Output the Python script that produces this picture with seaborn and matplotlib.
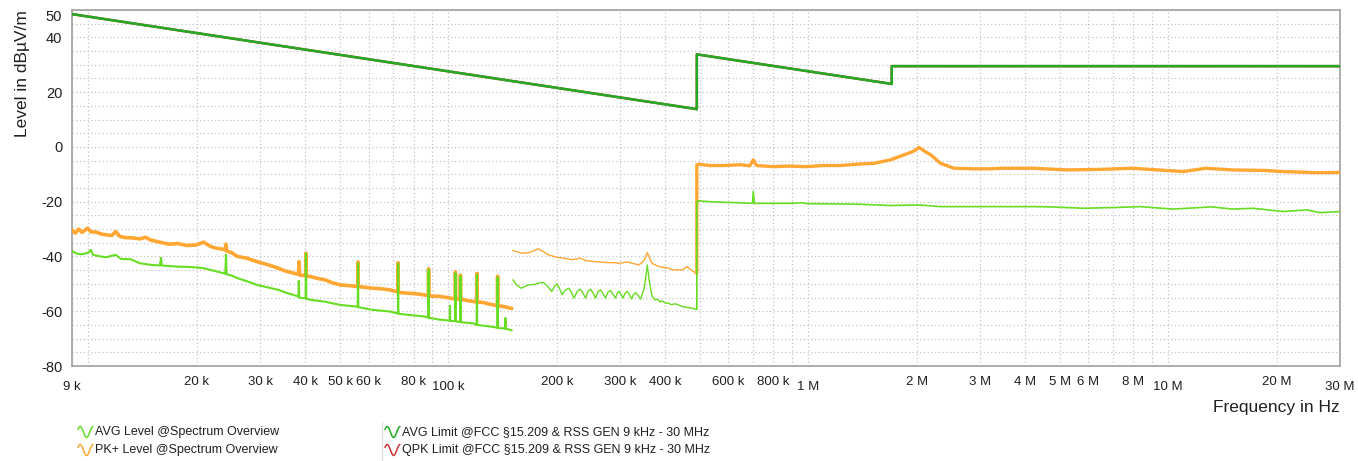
import numpy as np
import pandas as pd
import matplotlib
matplotlib.use("Agg")
import matplotlib.pyplot as plt
import matplotlib.ticker as mticker
from matplotlib.lines import Line2D
import seaborn as sns

# ---------------- data (frequency in kHz, level in dBuV/m) ----------------
limit_khz = [9, 490, 490, 1705, 1705, 30000]
limit_db = [48.5, 13.8, 33.8, 23.0, 29.5, 29.5]

pk1_khz = [9.0, 9.19, 9.39, 9.6, 9.94, 10.15, 10.5, 10.85, 11.2, 11.6,
           11.9, 12.2, 12.6, 13.2, 13.9, 14.4, 14.9, 15.8, 16.7, 17.7,
           18.8, 19.9, 20.9, 21.8, 22.7, 23.7, 24.0, 24.1, 24.2, 25.0,
           25.9, 27.5, 29.4, 31.5, 33.7, 35.2, 36.9, 38.3, 38.45, 38.6,
           40.1, 40.2, 40.3, 41.3, 43.2, 45.3, 47.6, 50.1, 53.5, 56.0,
           56.1, 56.2, 59.0, 61.6, 65.0, 68.8, 72.4, 72.5, 72.6, 76.8,
           81.0, 85.5, 88.0, 88.1, 88.2, 94.9, 99.0, 104.4, 104.6, 104.8,
           107.8, 108.0, 108.2, 110.1, 114.0, 119.8, 120.0, 120.2, 124.8, 130.0,
           136.8, 137.0, 137.2, 142.8, 148.5, 150.0]
pk1_db = [-30.3, -31.5, -30.0, -31.2, -29.7, -31.0, -31.1, -31.8, -32.1, -32.4,
          -30.9, -32.6, -33.1, -33.2, -33.6, -33.0, -34.0, -34.8, -35.5, -35.3,
          -36.0, -35.8, -34.8, -36.3, -37.0, -37.4, -37.6, -35.5, -38.0, -38.6,
          -40.0, -40.6, -41.9, -43.0, -44.3, -45.3, -46.0, -46.5, -41.9, -46.8,
          -47.0, -38.8, -47.2, -47.3, -48.0, -48.5, -49.6, -50.4, -50.7, -51.0,
          -42.0, -51.0, -51.3, -51.6, -51.8, -52.2, -53.0, -42.3, -53.1, -53.4,
          -53.6, -54.0, -54.3, -44.5, -54.4, -54.6, -55.0, -55.5, -45.6, -55.5,
          -55.7, -46.8, -55.7, -55.8, -56.2, -56.6, -46.2, -56.6, -56.8, -57.4,
          -58.0, -47.2, -58.0, -58.3, -58.9, -59.0]

avg1_khz = [9.0, 9.29, 9.6, 10.0, 10.15, 10.3, 10.8, 11.2, 11.9, 12.3,
            13.1, 13.9, 15.0, 15.8, 15.9, 16.0, 17.6, 18.8, 19.9, 20.9,
            21.8, 23.7, 24.0, 24.1, 24.2, 25.0, 25.9, 27.5, 29.4, 31.5,
            33.7, 36.1, 38.3, 38.4, 38.5, 38.7, 40.1, 40.2, 40.3, 41.3,
            45.3, 50.1, 55.6, 56.0, 56.1, 56.2, 61.6, 68.8, 72.4, 72.5,
            72.6, 76.8, 85.5, 88.0, 88.1, 88.2, 94.9, 100.8, 101.0, 101.2,
            104.4, 104.6, 104.8, 105.9, 107.8, 108.0, 108.2, 116.9, 119.8, 120.0,
            120.2, 130.8, 136.8, 137.0, 137.2, 143.8, 144.0, 144.2, 148.5, 150.0]
avg1_db = [-38.0, -39.0, -39.2, -38.6, -37.6, -39.4, -40.0, -40.3, -39.4, -40.9,
           -41.0, -42.5, -43.1, -43.3, -40.5, -43.3, -43.7, -43.8, -44.0, -44.3,
           -44.9, -46.1, -46.3, -39.4, -46.5, -47.0, -47.9, -49.0, -50.4, -51.3,
           -52.2, -53.6, -54.6, -48.9, -54.8, -55.1, -55.3, -39.0, -55.5, -55.8,
           -56.5, -57.7, -58.3, -58.4, -42.5, -58.5, -59.5, -60.1, -60.8, -42.7,
           -60.9, -61.3, -61.9, -62.3, -44.9, -62.4, -63.1, -63.4, -58.0, -63.5,
           -63.6, -46.1, -63.7, -63.8, -63.9, -47.3, -64.0, -64.4, -64.9, -46.7,
           -65.0, -65.6, -66.0, -47.6, -66.1, -66.3, -62.5, -66.4, -66.8, -67.0]

pk2_khz = [151, 159.4, 168, 177.6, 183.4, 189.5, 200, 208, 216, 220.8,
           232.9, 240.6, 256.4, 273.2, 291.2, 297.6, 314, 324.3, 338.3, 349.4,
           357, 364.7, 368.6, 384.6, 410, 419, 446.7, 461, 475, 490]
pk2_db = [-37.8, -38.8, -38.6, -37.2, -38.2, -39.4, -40.3, -40.6, -41.0, -41.2,
          -40.6, -41.5, -41.9, -42.2, -42.3, -42.5, -42.0, -42.5, -43.1, -41.5,
          -38.6, -41.5, -42.6, -43.7, -44.3, -44.9, -44.9, -43.7, -45.2, -46.2]

avg2_khz = [151, 155, 159.4, 163, 166.3, 170, 173.8, 178, 183.4, 186.5,
            189.5, 193.7, 197.0, 200, 203.5, 206.9, 211.5, 216, 219.5, 223.1,
            228.5, 232.9, 236.5, 240.6, 244.5, 248.4, 252.5, 256.4, 260.5, 264.6,
            269, 273.2, 277.5, 282, 286.5, 291.2, 294.5, 297.6, 301.5, 305.4,
            310, 314.1, 318.5, 322.9, 327, 331.2, 336.5, 342, 346, 349.4,
            353, 357, 361, 364.7, 368.6, 375, 380.5, 387, 393, 400,
            410, 415, 428, 446.7, 470, 490]
avg2_db = [-48.5, -50.5, -51.6, -51.0, -50.4, -50.3, -50.2, -49.7, -49.5, -50.2,
           -51.2, -52.8, -51.0, -50.0, -51.6, -54.0, -52.2, -51.6, -53.0, -55.2,
           -52.6, -52.0, -53.4, -55.2, -52.6, -52.0, -53.4, -55.2, -52.8, -52.2,
           -53.6, -55.2, -53.0, -52.4, -53.8, -55.2, -53.4, -52.8, -53.8, -55.2,
           -53.3, -52.8, -54.0, -55.5, -53.8, -53.2, -54.2, -55.6, -53.6, -52.0,
           -48.0, -43.1, -48.5, -52.0, -54.6, -55.8, -55.6, -56.6, -56.2, -57.0,
           -57.1, -57.6, -57.3, -58.3, -58.8, -59.3]

pk3_khz = [490, 490, 495.3, 533, 580, 646, 688, 703, 718, 799,
           888, 989, 1101, 1226, 1365, 1520, 1693, 1844, 1966, 2030,
           2100, 2190, 2330, 2540, 2890, 3210, 3420, 4230, 5230, 6460,
           7990, 9880, 11000, 12700, 15100, 18600, 20900, 25900, 30000]
pk3_db = [-46.2, -6.6, -6.3, -6.8, -6.8, -6.5, -6.9, -4.7, -6.8, -7.2,
          -7.0, -7.2, -6.8, -6.8, -6.3, -6.0, -4.7, -2.9, -1.5, -0.2,
          -1.5, -2.9, -6.0, -7.8, -8.0, -8.0, -7.8, -7.8, -8.4, -8.2,
          -7.8, -8.6, -9.0, -7.8, -8.4, -8.6, -9.0, -9.4, -9.3]

avg3_khz = [490, 490, 495.3, 533, 580, 646, 688, 700, 703, 708,
            718, 799, 888, 960, 989, 1365, 1693, 2030, 2330, 2890,
            3420, 4230, 4710, 5820, 7200, 8350, 10300, 13200, 15100, 17200,
            20900, 24300, 26400, 30000]
avg3_db = [-59.3, -20.0, -19.7, -20.0, -20.2, -20.4, -20.6, -20.5, -16.3, -20.6,
           -20.6, -20.6, -20.6, -20.4, -20.7, -20.9, -21.4, -21.2, -21.8, -21.8,
           -21.8, -21.8, -21.9, -22.4, -22.1, -21.8, -22.7, -21.9, -22.7, -22.4,
           -23.6, -23.0, -24.0, -23.6]

xtick_hz = [9e3, 2e4, 3e4, 4e4, 5e4, 6e4, 8e4, 1e5, 2e5, 3e5, 4e5, 6e5, 8e5,
            1e6, 2e6, 3e6, 4e6, 5e6, 6e6, 8e6, 1e7, 2e7, 3e7]
xtick_text = ["9 k", "20 k", "30 k", "40 k", "50 k", "60 k", "80 k", "100 k",
              "200 k", "300 k", "400 k", "600 k", "800 k", "1 M", "2 M", "3 M",
              "4 M", "5 M", "6 M", "8 M", "10 M", "20 M", "30 M"]
xtick_low = ["9 k", "100 k", "1 M", "10 M", "30 M"]
ytick_vals = [-80, -60, -40, -20, 0, 20, 40, 50]

legend_names = ["AVG Level @Spectrum Overview",
                "PK+ Level @Spectrum Overview",
                "AVG Limit @FCC §15.209 & RSS GEN 9 kHz - 30 MHz",
                "QPK Limit @FCC §15.209 & RSS GEN 9 kHz - 30 MHz"]

# ---------------- style ----------------
C_AVG = "#66dd22"
C_PK = "#ffa633"
C_LIM = "#22aa22"
C_QPK = "#cc3333"
GRID = "#c4c4c4"
FRAME = "#a0a0a0"

sns.set_theme(style="white")
plt.rcParams["font.family"] = ["Liberation Sans", "DejaVu Sans"]


def frame(khz, db):
    return pd.DataFrame({"freq": np.asarray(khz, float) * 1e3, "level": db})


fig, ax = plt.subplots(figsize=(13.58, 4.61), dpi=100)
fig.subplots_adjust(left=72 / 1358, right=1340 / 1358, top=1 - 10 / 461, bottom=1 - 366 / 461)
ax.set_xscale("log")

common = dict(x="freq", y="level", estimator=None, sort=False, ax=ax, legend=False)
sns.lineplot(data=frame(pk1_khz, pk1_db), color=C_PK, lw=2.6, zorder=3, **common)
sns.lineplot(data=frame(pk2_khz, pk2_db), color=C_PK, lw=1.0, zorder=3, **common)
sns.lineplot(data=frame(pk3_khz, pk3_db), color=C_PK, lw=2.4, zorder=3, **common)
sns.lineplot(data=frame(avg1_khz, avg1_db), color=C_AVG, lw=1.5, zorder=4, **common)
sns.lineplot(data=frame(avg2_khz, avg2_db), color=C_AVG, lw=1.0, zorder=4, **common)
sns.lineplot(data=frame(avg3_khz, avg3_db), color=C_AVG, lw=1.2, zorder=4, **common)
sns.lineplot(data=frame(limit_khz, limit_db), color=C_QPK, lw=1.8, zorder=5, **common)
sns.lineplot(data=frame(limit_khz, limit_db), color=C_LIM, lw=1.8, zorder=6, **common)

ax.set_xlim(9e3, 30e6)
ax.set_ylim(-80, 50)

# grid positions: every 1..9 x decade, every 5 dB
grid_x = [m * 10.0 ** e for e in range(3, 8) for m in range(1, 10) if 9e3 <= m * 10.0 ** e <= 3e7]
grid_y = list(range(-80, 51, 5))
xlab = {round(v): t for v, t in zip(xtick_hz, xtick_text)}
ax.xaxis.set_major_locator(mticker.FixedLocator(grid_x))
ax.xaxis.set_minor_locator(mticker.NullLocator())
ax.xaxis.set_major_formatter(mticker.FuncFormatter(lambda v, p: xlab.get(round(v), "")))
ax.yaxis.set_major_locator(mticker.FixedLocator(grid_y))
ax.yaxis.set_major_formatter(mticker.FuncFormatter(lambda v, p: f"{v:.0f}" if round(v) in ytick_vals else ""))

ax.tick_params(axis="both", which="major", direction="out", length=4, width=0.8,
               color=FRAME, labelcolor="#202020")
ax.tick_params(axis="x", labelsize=9.5, pad=3)
ax.tick_params(axis="y", labelsize=10.5, pad=3)

for tick, v in zip(ax.xaxis.get_major_ticks(), grid_x):
    txt = xlab.get(round(v), "")
    if not txt:
        tick.tick1line.set_visible(False)
    elif txt in xtick_low:
        tick.set_pad(7)
for tick, v in zip(ax.yaxis.get_major_ticks(), grid_y):
    if round(v) not in ytick_vals:
        tick.tick1line.set_visible(False)
    if round(v) == 50:
        tick.label1.set_va("top")

ax.grid(True, which="major", color=GRID, linestyle=(0, (1, 2)), linewidth=0.9)
for s in ax.spines.values():
    s.set_visible(True)
    s.set_color(FRAME)
    s.set_linewidth(1.2)

ax.set_ylabel("Level in dBµV/m", loc="top", fontsize=12.5, labelpad=8, color="#202020")
ax.set_xlabel("Frequency in Hz", loc="right", fontsize=12.5, labelpad=5, color="#202020")

# ---------------- legend below ----------------
W, H = 1358.0, 461.0


def icon(x0, yc, color):
    t = np.linspace(-0.35 * np.pi, 2.0 * np.pi, 30)
    xs = (x0 + (t - t[0]) / (t[-1] - t[0]) * 15) / W
    ys = 1 - (yc - 5.5 * np.cos(t)) / H
    fig.add_artist(Line2D(xs, ys, color=color, lw=1.1, transform=fig.transFigure))


rows = [(78, 432, C_AVG, legend_names[0]), (78, 450, C_PK, legend_names[1]),
        (385, 432, C_LIM, legend_names[2]), (385, 450, C_QPK, legend_names[3])]
for x0, yc, col, name in rows:
    icon(x0, yc, col)
    fig.text((x0 + 17) / W, 1 - yc / H, name, fontsize=9, va="center", ha="left", color="#202020")
fig.add_artist(Line2D([382 / W, 382 / W], [1 - 422 / H, 0], color="#e0e0e0", lw=1,
                      transform=fig.transFigure))

fig.savefig("out.png", dpi=100)
